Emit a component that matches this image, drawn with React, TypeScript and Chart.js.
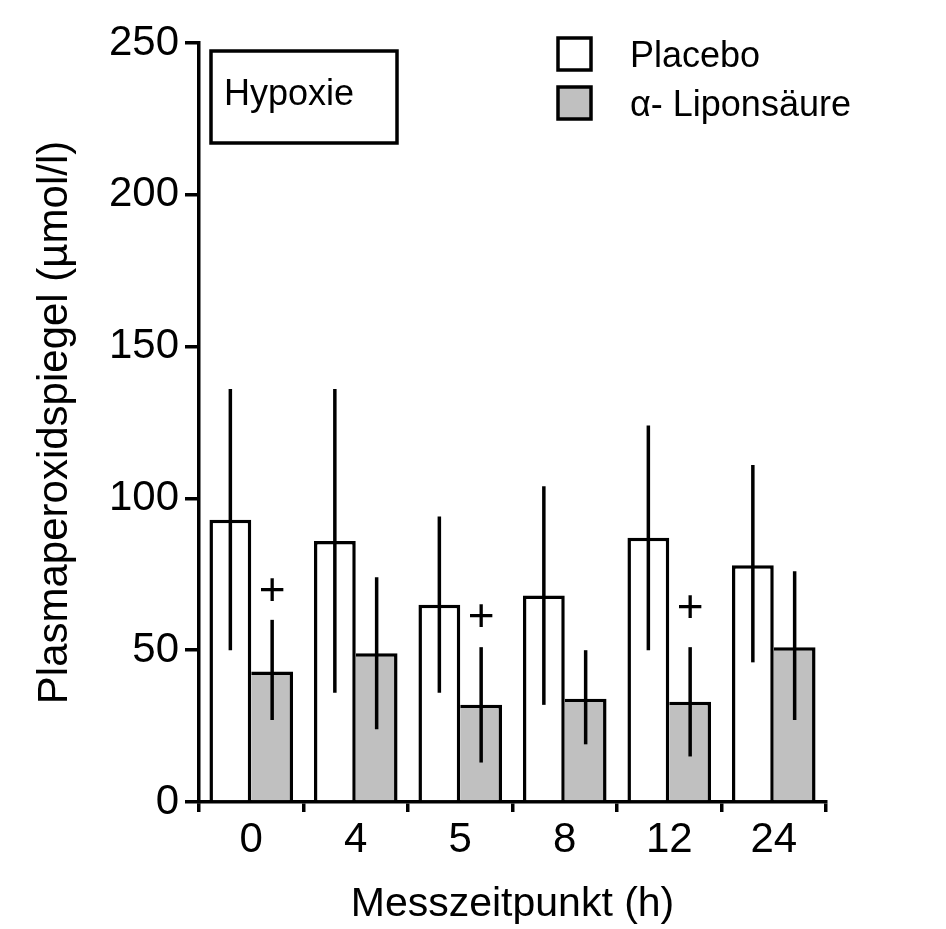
import React, { useEffect, useRef } from 'react';
import { Chart, registerables } from 'chart.js';

Chart.register(...registerables);

// Measurement times (h) and group means with their spread (µmol/l)
const categories = ['0', '4', '5', '8', '12', '24'];
const placebo = [93, 86, 65, 68, 87, 78];
const placeboLow = [50, 36, 36, 32, 50, 46];
const placeboHigh = [136, 136, 94, 104, 124, 111];
const liponsaeure = [43, 49, 32, 34, 33, 51];
const liponsaeureLow = [27, 24, 13, 19, 15, 27];
const liponsaeureHigh = [60, 74, 51, 50, 51, 76];

// Significance markers (+) above the α-lipoic acid bars
const markedCategories = ['0', '5', '12'];
const markerLevels = [69, 60.5, 63.5];

const yTicks = [0, 50, 100, 150, 200, 250];
const seriesNames = ['Placebo', 'α- Liponsäure'];
const seriesFills = ['#ffffff', '#c0c0c0'];
const panelLabel = 'Hypoxie';

const FONT = '"Liberation Sans", Arial, sans-serif';
const LINE = 3.5;

const errorBarPlugin = {
  id: 'errorBars',
  afterDatasetsDraw(chart: any) {
    const { ctx } = chart;
    const y = chart.scales.y;
    const ranges = [
      [placeboLow, placeboHigh],
      [liponsaeureLow, liponsaeureHigh],
    ];
    ctx.save();
    ctx.strokeStyle = '#000';
    ctx.lineWidth = LINE;
    ctx.lineCap = 'butt';
    ranges.forEach(([lo, hi], di) => {
      chart.getDatasetMeta(di).data.forEach((bar: any, i: number) => {
        ctx.beginPath();
        ctx.moveTo(bar.x, y.getPixelForValue(lo[i]));
        ctx.lineTo(bar.x, y.getPixelForValue(hi[i]));
        ctx.stroke();
      });
    });
    ctx.fillStyle = '#000';
    ctx.font = `46px ${FONT}`;
    ctx.textAlign = 'center';
    ctx.textBaseline = 'middle';
    const meta = chart.getDatasetMeta(1);
    markedCategories.forEach((c, k) => {
      const bar: any = meta.data[categories.indexOf(c)];
      ctx.fillText('+', bar.x, y.getPixelForValue(markerLevels[k]));
    });
    ctx.restore();
  },
};

const overlayPlugin = {
  id: 'panelOverlay',
  afterDraw(chart: any) {
    const { ctx, chartArea } = chart;
    ctx.save();
    ctx.strokeStyle = '#000';
    ctx.lineWidth = LINE;

    // Condition label box
    const bx = chartArea.left + 12;
    const by = chartArea.top + 8;
    ctx.strokeRect(bx, by, 186, 92);
    ctx.fillStyle = '#000';
    ctx.font = `36px ${FONT}`;
    ctx.textAlign = 'left';
    ctx.textBaseline = 'alphabetic';
    ctx.fillText(panelLabel, bx + 13, by + 54);

    // Legend
    const lx = chartArea.left + 359;
    seriesNames.forEach((name, i) => {
      const ly = chartArea.top - 5 + i * 49;
      ctx.fillStyle = seriesFills[i];
      ctx.fillRect(lx, ly, 33, 32);
      ctx.strokeRect(lx, ly, 33, 32);
      ctx.fillStyle = '#000';
      ctx.fillText(name, lx + 72, ly + 29);
    });
    ctx.restore();
  },
};

export default function App() {
  const canvasRef = useRef<HTMLCanvasElement | null>(null);

  useEffect(() => {
    const canvas = canvasRef.current;
    if (!canvas) return;
    const chart = new Chart(canvas, {
      type: 'bar',
      data: {
        labels: categories,
        datasets: [
          {
            label: seriesNames[0],
            data: placebo,
            backgroundColor: seriesFills[0],
            borderColor: '#000',
            borderWidth: { top: LINE, left: LINE, right: LINE, bottom: 0 },
            borderSkipped: false,
            categoryPercentage: 0.8,
            barPercentage: 1.0,
          },
          {
            label: seriesNames[1],
            data: liponsaeure,
            backgroundColor: seriesFills[1],
            borderColor: '#000',
            borderWidth: { top: LINE, left: 0, right: LINE, bottom: 0 },
            borderSkipped: false,
            categoryPercentage: 0.8,
            barPercentage: 1.0,
          },
        ],
      },
      options: {
        responsive: false,
        animation: false,
        events: [],
        layout: { padding: { top: 43, right: 120, left: 0, bottom: 0 } },
        plugins: {
          legend: { display: false },
          tooltip: { enabled: false },
          title: { display: false },
        },
        scales: {
          x: {
            grid: {
              drawOnChartArea: false,
              drawTicks: true,
              tickLength: 10,
              color: '#000',
              lineWidth: LINE,
            },
            border: { display: true, color: '#000', width: LINE },
            ticks: {
              color: '#000',
              font: { family: FONT, size: 42 },
              padding: 3,
              maxRotation: 0,
            },
            title: {
              display: true,
              text: 'Messzeitpunkt (h)',
              color: '#000',
              font: { family: FONT, size: 41 },
              padding: { top: 0, bottom: 0 },
            },
            afterFit(scale: any) {
              scale.height = 127;
              scale.paddingLeft = 0;
              scale.paddingRight = 0;
            },
          },
          y: {
            min: 0,
            max: 250,
            afterBuildTicks(scale: any) {
              scale.ticks = yTicks.map((v) => ({ value: v }));
            },
            grid: {
              drawOnChartArea: false,
              drawTicks: true,
              tickLength: 14,
              color: '#000',
              lineWidth: LINE,
            },
            border: { display: true, color: '#000', width: LINE },
            ticks: {
              color: '#000',
              font: { family: FONT, size: 42 },
              padding: 6,
            },
            title: {
              display: true,
              text: 'Plasmaperoxidspiegel (µmol/l)',
              color: '#000',
              font: { family: FONT, size: 42 },
              padding: { top: 30, bottom: 0 },
            },
            afterFit(scale: any) {
              scale.width = 199;
              scale.paddingTop = 0;
              scale.paddingBottom = 0;
            },
          },
        },
      },
      plugins: [errorBarPlugin, overlayPlugin],
    });
    return () => chart.destroy();
  }, []);

  return (
    <div style={{ position: 'absolute', left: 0, top: 0, width: 946, height: 929, background: '#fff' }}>
      <canvas ref={canvasRef} width={946} height={929} />
    </div>
  );
}
